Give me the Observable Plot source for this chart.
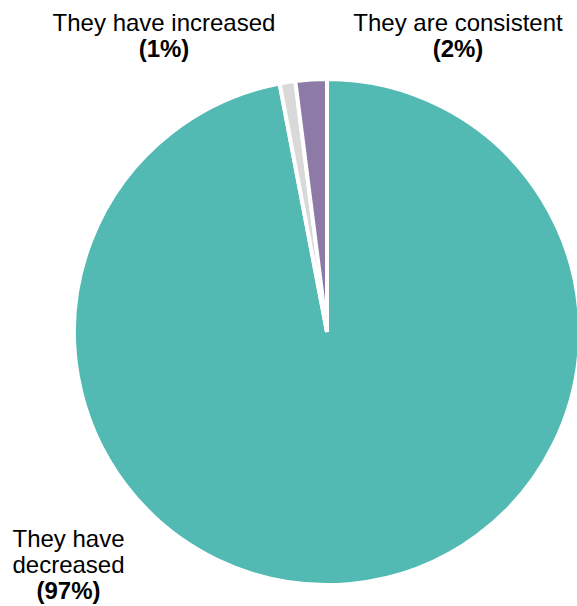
<!DOCTYPE html>
<html><head><meta charset="utf-8">
<script src="https://cdn.jsdelivr.net/npm/d3@7"></script>
<script src="https://cdn.jsdelivr.net/npm/@observablehq/plot@0.6"></script>
<style>body{margin:0;background:#fff}</style>
</head><body><div id="chart"></div>
<script>
// Data
const categories = ["They have decreased", "They have increased", "They are consistent"];
const shares = [97, 1, 2];
const nameLabels = ["They have\ndecreased", "They have increased", "They are consistent"];
const percentLabels = ["(97%)", "(1%)", "(2%)"];
const sliceColors = ["#52b9b3", "#d9d9d9", "#8d7aa6"];

// Layout (pixel space)
const W = 577, H = 606;
const pieCenter = {x: 327, y: 332};
const pieRadius = 253;
const labelPos = [
  {x: 68, y: 572.5, py: 598},
  {x: 163.5, y: 30, py: 56.5},
  {x: 457.5, y: 30, py: 56.5}
];

const table = categories.map((c, i) => ({
  category: c, share: shares[i], name: nameLabels[i], pct: percentLabels[i],
  x: labelPos[i].x, y: labelPos[i].y, py: labelPos[i].py
}));

function pieMark(index, scales) {
  const arcs = d3.pie().sort(null).value(d => d.share)(table);
  const cx = scales.x(pieCenter.x), cy = scales.y(pieCenter.y);
  const r = Math.abs(scales.x(pieCenter.x + pieRadius) - cx);
  const arc = d3.arc().innerRadius(0).outerRadius(r);
  const g = d3.create("svg:g").attr("transform", `translate(${cx},${cy})`);
  g.selectAll("path").data(arcs).join("path")
    .attr("d", arc)
    .attr("fill", d => scales.color(d.data.category))
    .attr("stroke", "#ffffff")
    .attr("stroke-width", 4);
  return g.node();
}

const chart = Plot.plot({
  width: W, height: H, margin: 0,
  x: {domain: [0, W], range: [0, W], axis: null},
  y: {domain: [0, H], range: [0, H], axis: null},
  color: {domain: categories, range: sliceColors},
  style: {fontFamily: "'Liberation Sans', Arial, sans-serif", background: "#fff", color: "#000"},
  marks: [
    Plot.dot(table, {x: "x", y: "y", fill: "category", r: 0}),
    pieMark,
    Plot.text(table, {x: "x", y: "y", text: "name", lineAnchor: "bottom", lineHeight: 26 / 24, fontSize: 24, fill: "#000"}),
    Plot.text(table, {x: "x", y: "py", text: "pct", lineAnchor: "bottom", fontSize: 24, fontWeight: "bold", fill: "#000"})
  ]
});
document.getElementById("chart").appendChild(chart);
</script>
</body></html>
